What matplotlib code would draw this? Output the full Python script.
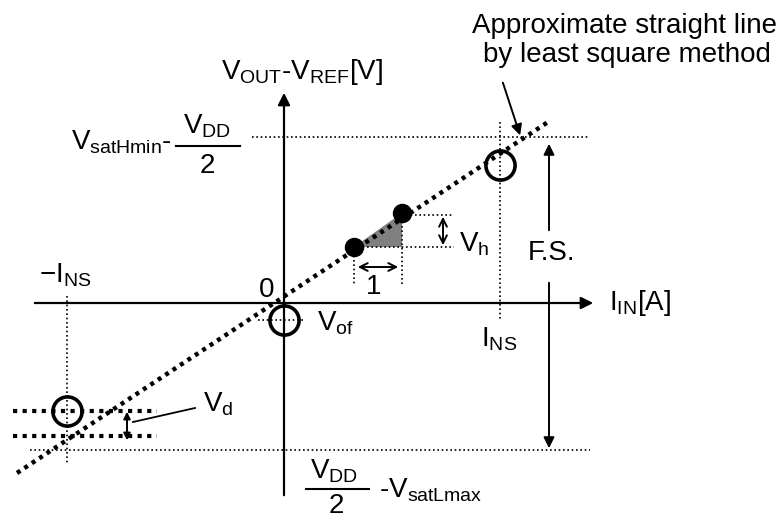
import matplotlib
matplotlib.use("Agg")
import matplotlib.pyplot as plt
from matplotlib.patches import Polygon

plt.rcParams['font.family'] = ['Liberation Sans', 'DejaVu Sans']
plt.rcParams['mathtext.fontset'] = 'custom'
plt.rcParams['mathtext.rm'] = 'Liberation Sans'
plt.rcParams['mathtext.it'] = 'Liberation Sans'

# --- diagram geometry (pixel-like schematic units) ---
origin = (284, 303)
x_axis = [32, 596]
y_axis = [498, 90]
fit_line_x = [17, 548]
fit_line_y = [473, 122]
top_level_y = 137
bottom_level_y = 450
level_x = [30, 590]
open_points_x = [500, 284, 67]
open_points_y = [165, 320, 411]
filled_points_x = [354, 402]
filled_points_y = [247, 213]
ins_x = 500
neg_ins_x = 67
vd_levels_y = [411, 436]

fig = plt.figure(figsize=(7.83, 5.20), dpi=100)
ax = fig.add_axes([0, 0, 1, 1])
ax.set_xlim(0, 783)
ax.set_ylim(520, 0)
ax.axis('off')

FS = 20
k = 'black'
thin = dict(color=k, lw=1.2, ls=(0, (1, 1.6)))

# axes
ax.annotate('', xy=(x_axis[1], origin[1]), xytext=(x_axis[0], origin[1]),
            arrowprops=dict(arrowstyle='-|>', color=k, lw=1.6, mutation_scale=18))
ax.annotate('', xy=(origin[0], y_axis[1]), xytext=(origin[0], y_axis[0]),
            arrowprops=dict(arrowstyle='-|>', color=k, lw=1.6, mutation_scale=18))

# levels
ax.plot([252, level_x[1]], [top_level_y] * 2, **thin)
ax.plot(level_x, [bottom_level_y] * 2, **thin)

# least-square line
ax.plot(fit_line_x, fit_line_y, color=k, lw=3.2, ls=(0, (0.9, 1.1)))

# I_NS vertical and -I_NS vertical
ax.plot([ins_x, ins_x], [122, 320], **thin)
ax.plot([neg_ins_x, neg_ins_x], [296, 465], **thin)

# V_of dotted
ax.plot([258, 304], [open_points_y[1]] * 2, **thin)

# V_d thick dotted levels
for yv in vd_levels_y:
    ax.plot([13, 157], [yv, yv], color=k, lw=3.0, ls=(0, (1.0, 1.3)))
ax.annotate('', xy=(127, 409), xytext=(127, 443),
            arrowprops=dict(arrowstyle='<|-|>', color=k, lw=1.4, mutation_scale=10))
ax.plot([133, 195], [422, 408], color=k, lw=1.3)

# triangle and filled points
tri = Polygon([[filled_points_x[0], filled_points_y[0]],
               [filled_points_x[1], filled_points_y[1]],
               [filled_points_x[1], filled_points_y[0]]],
              closed=True, facecolor='#808080', edgecolor='none')
ax.add_patch(tri)
ax.plot([filled_points_x[1], 454], [filled_points_y[1] + 2] * 2, **thin)
ax.plot([filled_points_x[0], 454], [filled_points_y[0]] * 2, **thin)
ax.plot([filled_points_x[0]] * 2, [filled_points_y[0], 286], **thin)
ax.plot([filled_points_x[1]] * 2, [filled_points_y[1], 286], **thin)
ax.annotate('', xy=(443, 214), xytext=(443, 248),
            arrowprops=dict(arrowstyle='<->', color=k, lw=1.4, mutation_scale=14))
ax.annotate('', xy=(355, 267), xytext=(401, 267),
            arrowprops=dict(arrowstyle='<->', color=k, lw=1.4, mutation_scale=14))
ax.plot(filled_points_x, filled_points_y, 'o', color=k, ms=13, zorder=5)

# open circles
ax.plot(open_points_x, open_points_y, 'o', mfc='none', mec=k, mew=2.6, ms=21, zorder=5)

# F.S. arrows
ax.annotate('', xy=(549, 141), xytext=(549, 233),
            arrowprops=dict(arrowstyle='-|>', color=k, lw=1.4, mutation_scale=16))
ax.annotate('', xy=(549, 451), xytext=(549, 280),
            arrowprops=dict(arrowstyle='-|>', color=k, lw=1.4, mutation_scale=16))

# annotation arrow
ax.annotate('', xy=(521, 138), xytext=(502, 80),
            arrowprops=dict(arrowstyle='-|>', color=k, lw=1.4, mutation_scale=16))

# texts
def T(x, y, s, ha='left', va='center', size=FS):
    ax.text(x, y, s, ha=ha, va=va, fontsize=size, color=k)

T(625, 26, 'Approximate straight line', ha='center')
T(627, 55, 'by least square method', ha='center')
T(221, 72, r'V$_{\mathrm{OUT}}$-V$_{\mathrm{REF}}$[V]')
T(71, 142, r'V$_{\mathrm{satHmin}}$-')
T(207, 126, r'V$_{\mathrm{DD}}$', ha='center')
ax.plot([176, 240], [146, 146], color=k, lw=1.5)
T(207, 166, '2', ha='center')
T(39, 275, r'−I$_{\mathrm{NS}}$')
T(267, 290, '0', ha='center')
T(609, 303, r'I$_{\mathrm{IN}}$[A]')
T(481, 339, r'I$_{\mathrm{NS}}$')
T(317, 323, r'V$_{\mathrm{of}}$')
T(459, 244, r'V$_{\mathrm{h}}$')
T(374, 287, '1', ha='center')
T(552, 253, 'F.S.', ha='center')
T(203, 404, r'V$_{\mathrm{d}}$')
T(334, 471, r'V$_{\mathrm{DD}}$', ha='center')
ax.plot([306, 369], [489, 489], color=k, lw=1.5)
T(336, 506, '2', ha='center')
T(379, 490, r'-V$_{\mathrm{satLmax}}$')

fig.savefig('out.png', dpi=100)
